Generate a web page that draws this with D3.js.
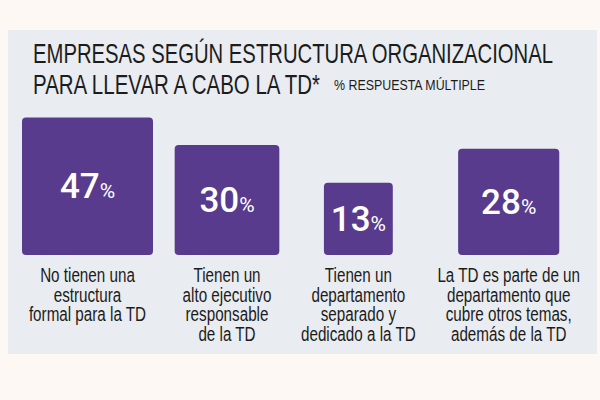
<!DOCTYPE html>
<html>
<head>
<meta charset="utf-8">
<script src="https://cdn.jsdelivr.net/npm/d3@7"></script>
<style>
  body { margin: 0; background: #fdf8f4; }
  svg { display: block; }
  text { font-family: "Liberation Sans", Arial, sans-serif; }
</style>
</head>
<body>
<svg id="chart" width="600" height="400"></svg>
<script>
// chart data
const titleLines = ["EMPRESAS SEGÚN ESTRUCTURA ORGANIZACIONAL", "PARA LLEVAR A CABO LA TD*"];
const subtitle = "% RESPUESTA MÚLTIPLE";
const values = [47, 30, 13, 28];
const labels = [
    ["No tienen una", "estructura", "formal para la TD"],
    ["Tienen un", "alto ejecutivo", "responsable", "de la TD"],
    ["Tienen un", "departamento", "separado y", "dedicado a la TD"],
    ["La TD es parte de un", "departamento que", "cubre otros temas,", "además de la TD"]
];

const purple = "#583b8d";
const ink = "#1c1c1c";
const squeeze = 0.78; // no narrow font installed, so condense text by hand

const svg = d3.select("#chart");

// background panel
svg.append("rect")
    .attr("x", 8).attr("y", 30)
    .attr("width", 589).attr("height", 324)
    .attr("fill", "#e9ecf0");

// title
svg.selectAll(".title")
    .data(titleLines)
    .enter()
    .append("text")
    .attr("class", "title")
    .attr("x", 33)
    .attr("y", (d, i) => 63 + i * 31)
    .attr("font-size", 28)
    .attr("fill", ink)
    .attr("textLength", (d, i) => i === 0 ? 520 : 287)
    .attr("lengthAdjust", "spacingAndGlyphs")
    .text(d => d);

svg.append("text")
    .attr("x", 334)
    .attr("y", 90)
    .attr("font-size", 15)
    .attr("fill", ink)
    .attr("textLength", 151)
    .attr("lengthAdjust", "spacingAndGlyphs")
    .text(subtitle);

// square side proportional to sqrt of value (area encodes the share)
const side = d3.scaleSqrt().domain([0, d3.max(values)]).range([0, 131]);
const aspect = 1.05;
const baseY = 255;

const cols = svg.selectAll(".col")
    .data(values)
    .enter()
    .append("g")
    .attr("class", "col");

// labels under each square
cols.selectAll(".label")
    .data((d, i) => labels[i])
    .enter()
    .append("text")
    .attr("class", "label")
    .attr("text-anchor", "middle")
    .attr("font-size", 19.5)
    .attr("fill", ink)
    .attr("x", 0)
    .attr("y", (d, i) => baseY + 27 + i * 19.5)
    .text(d => d)
    .each(function(){
        let w = this.getComputedTextLength();
        d3.select(this).attr("textLength", w * squeeze).attr("lengthAdjust", "spacingAndGlyphs");
    });

// lay out columns left to right, width = max(square, label)
let widths = [];
cols.each(function(d){
    let lw = d3.max(d3.select(this).selectAll(".label").nodes(), n => +n.getAttribute("textLength"));
    widths.push(Math.max(side(d), lw));
});
const left = 22, right = 580;
const gap = (right - left - d3.sum(widths)) / (values.length - 1);
let cx = [];
let x0 = left;
widths.forEach(w => { cx.push(x0 + w / 2); x0 += w + gap; });
cols.attr("transform", (d, i) => "translate(" + cx[i] + ",0)");

cols.append("rect")
    .attr("x", d => -side(d) / 2)
    .attr("y", d => baseY - side(d) * aspect)
    .attr("width", d => side(d))
    .attr("height", d => side(d) * aspect)
    .attr("rx", 4)
    .attr("fill", purple);

let num = cols.append("text")
    .attr("text-anchor", "middle")
    .attr("y", d => baseY - side(d) * aspect / 2 + 12)
    .attr("fill", "#ffffff")
    .style("font-family", "Roboto, sans-serif")
    .attr("font-weight", 500);
num.append("tspan")
    .attr("font-size", 35)
    .text(d => d);
num.append("tspan")
    .attr("font-size", 21)
    .attr("font-weight", 400)
    .text("%");
</script>
</body>
</html>
